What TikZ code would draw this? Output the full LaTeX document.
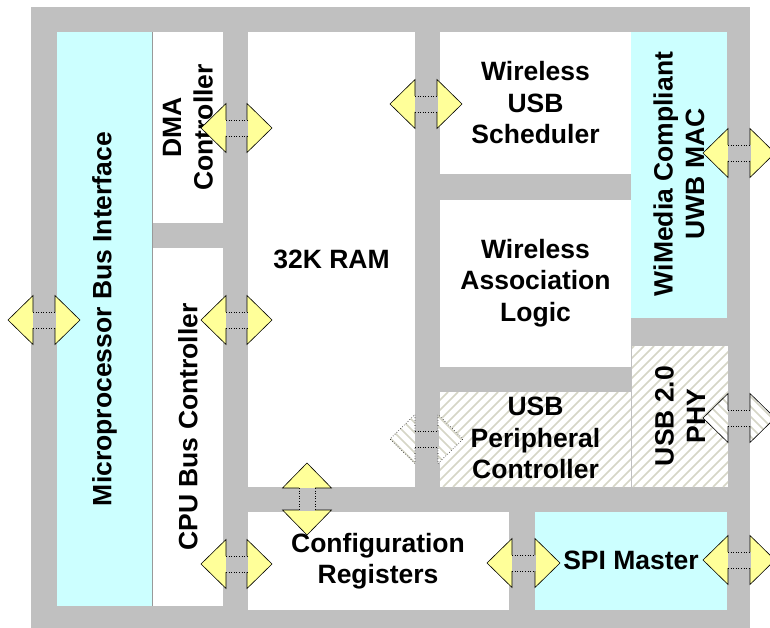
\documentclass[tikz,border=0pt]{standalone}
\usepackage{fontspec}
\setmainfont{Liberation Sans}
\definecolor{bargrey}{RGB}{192,192,192}
\definecolor{cyanbox}{RGB}{204,255,255}
\definecolor{yel}{RGB}{255,255,153}
\definecolor{hatchc}{RGB}{214,214,198}
\tikzset{
  lbl/.style={font=\fontsize{26.5}{31.5}\selectfont\bfseries, align=center, inner sep=0pt},
  hatchline/.style={draw=hatchc, line width=1.6pt},
  arrline/.style={draw=black, line width=0.6pt, line join=miter},
  shaftline/.style={draw=black, line width=0.6pt, dotted},
}
% hatch lines (global phase) inside current clip, over box x0 y0 x1 y1
\newcommand\hatchlines[4]{%
  \pgfmathtruncatemacro\ka{(#1+#2)/10-1}%
  \pgfmathtruncatemacro\kb{(#3+#4)/10+1}%
  \foreach \k in {\ka,...,\kb}{\draw[hatchline] ({\k*10-#4},{#4}) -- ({\k*10-#2},{#2});}%
}
\newcommand\hatchbox[4]{%
  \fill[white] (#1,#2) rectangle (#3,#4);
  \begin{scope}\clip (#1,#2) rectangle (#3,#4);\hatchlines{#1}{#2}{#3}{#4}\end{scope}%
}
% horizontal double arrow: cx cy a name mode(1 yellow,2 hatched dotted,3 hatched solid)
\newcommand\harr[5]{%
  \coordinate (#4) at (#1,#2);
  \ifcase#5\or
    \fill[yel] ({#1-#3-25},{#2}) -- ({#1-#3},{#2-24.5}) -- ({#1-#3},{#2+24.5}) -- cycle
               ({#1+#3+25},{#2}) -- ({#1+#3},{#2-24.5}) -- ({#1+#3},{#2+24.5}) -- cycle;
  \else
    \fill[white] ({#1-#3-25},{#2}) -- ({#1-#3},{#2-24.5}) -- ({#1-#3},{#2+24.5}) -- cycle
               ({#1+#3+25},{#2}) -- ({#1+#3},{#2-24.5}) -- ({#1+#3},{#2+24.5}) -- cycle;
    \begin{scope}
      \clip ({#1-#3-25},{#2}) -- ({#1-#3},{#2-24.5}) -- ({#1-#3},{#2+24.5}) -- cycle
               ({#1+#3+25},{#2}) -- ({#1+#3},{#2-24.5}) -- ({#1+#3},{#2+24.5}) -- cycle;
      \hatchlines{#1-#3-25}{#2-25}{#1+#3+25}{#2+25}
    \end{scope}
  \fi
  \fill[bargrey] ({#1-#3-0.5},{#2-8}) rectangle ({#1+#3+0.5},{#2+8});
  \ifnum#5=2 \tikzset{curarr/.style={shaftline}}\else\tikzset{curarr/.style={arrline}}\fi
  \draw[curarr] ({#1-#3},{#2-8}) -- ({#1-#3},{#2-24.5}) -- ({#1-#3-25},{#2}) -- ({#1-#3},{#2+24.5}) -- ({#1-#3},{#2+8});
  \draw[curarr] ({#1+#3},{#2-8}) -- ({#1+#3},{#2-24.5}) -- ({#1+#3+25},{#2}) -- ({#1+#3},{#2+24.5}) -- ({#1+#3},{#2+8});
  \draw[shaftline] ({#1-#3},{#2-8}) -- ({#1+#3},{#2-8}) ({#1-#3},{#2+8}) -- ({#1+#3},{#2+8});
}
% vertical double arrow: cx cy a name
\newcommand\varr[4]{%
  \coordinate (#4) at (#1,#2);
  \fill[yel] ({#1},{#2-#3-25}) -- ({#1-24.5},{#2-#3}) -- ({#1+24.5},{#2-#3}) -- cycle
             ({#1},{#2+#3+25}) -- ({#1-24.5},{#2+#3}) -- ({#1+24.5},{#2+#3}) -- cycle;
  \fill[bargrey] ({#1-8},{#2-#3-0.5}) rectangle ({#1+8},{#2+#3+0.5});
  \draw[arrline] ({#1-8},{#2-#3}) -- ({#1-24.5},{#2-#3}) -- ({#1},{#2-#3-25}) -- ({#1+24.5},{#2-#3}) -- ({#1+8},{#2-#3});
  \draw[arrline] ({#1-8},{#2+#3}) -- ({#1-24.5},{#2+#3}) -- ({#1},{#2+#3+25}) -- ({#1+24.5},{#2+#3}) -- ({#1+8},{#2+#3});
  \draw[shaftline] ({#1-8},{#2-#3}) -- ({#1-8},{#2+#3}) ({#1+8},{#2-#3}) -- ({#1+8},{#2+#3});
}
\begin{document}
\begin{tikzpicture}[x=1pt,y=-1pt]
\useasboundingbox (0,0) rectangle (770,628);
\fill[white] (0,0) rectangle (770,628);
% grey bus background
\fill[bargrey] (31,7) rectangle (750,628);
% blocks
\fill[cyanbox] (57,32) rectangle (152,606);
\draw[gray!80, line width=0.8pt] (152.4,32) -- (152.4,606);
\fill[white] (153,32) rectangle (223,223);
\fill[white] (153,248) rectangle (223,606);
\fill[white] (248,32) rectangle (415,487);
\fill[white] (440,32) rectangle (631,174);
\fill[white] (440,200) rectangle (631,367);
\fill[cyanbox] (631,32) rectangle (727,318);
\hatchbox{440}{392}{631}{487}
\hatchbox{632}{346}{728}{487}
\fill[white] (248,512) rectangle (509,610);
\fill[cyanbox] (535,512) rectangle (727,610);
% labels
\node[lbl, rotate=90] (micro) at (104.5,319) {Microprocessor Bus Interface};
\node[lbl, rotate=90] (dma) at (188,127.5) {DMA\\Controller};
\node[lbl, rotate=90] (cpu) at (188,427) {CPU Bus Controller};
\node[lbl] (ram) at (331.5,259) {32K RAM};
\node[lbl] (sched) at (535.5,103) {Wireless\\USB\\Scheduler};
\node[lbl] (assoc) at (535.5,283) {Wireless\\Association\\Logic};
\node[lbl, rotate=90] (wimedia) at (679,174) {WiMedia Compliant\\UWB MAC};
\node[lbl] (usbp) at (535.5,438) {USB\\Peripheral\\Controller};
\node[lbl, rotate=90] (phy) at (680,416) {USB 2.0\\PHY};
\node[lbl] (config) at (378,561) {Configuration\\Registers};
\node[lbl] (spi) at (631,560) {SPI Master};
% bus arrows
\harr{44}{320}{11}{amicro}{1}
\harr{236.5}{128}{10.5}{adma}{1}
\harr{236.5}{320}{10.5}{acpu}{1}
\harr{236.5}{564}{10.5}{acfg}{1}
\harr{426}{104}{11}{asched}{1}
\harr{426.5}{439}{11.5}{ausbp}{2}
\harr{739}{153}{11}{awimedia}{1}
\harr{739}{418}{11}{aphy}{3}
\harr{523.5}{563}{11.5}{aspil}{1}
\harr{739}{560}{11}{aspir}{1}
\varr{307}{499}{11}{aram}
\end{tikzpicture}
\end{document}
